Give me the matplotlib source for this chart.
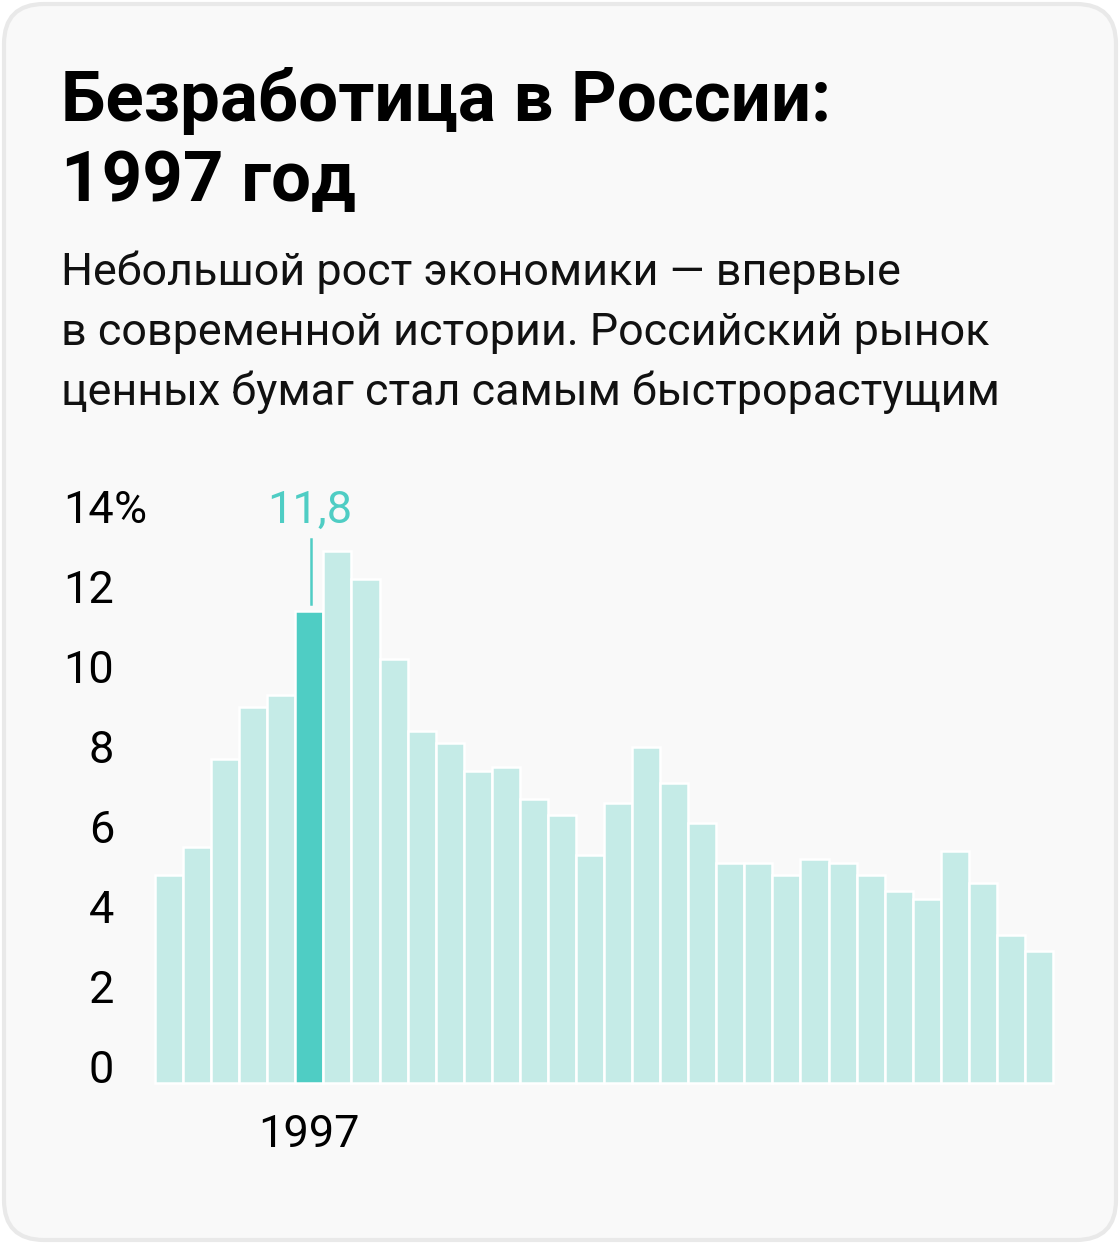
import matplotlib
matplotlib.use("Agg")
import matplotlib.pyplot as plt
from matplotlib.patches import FancyBboxPatch
import matplotlib.transforms as mtransforms

# data: unemployment in Russia, %
years = list(range(1992, 2024))
values = [5.2, 5.9, 8.1, 9.4, 9.7, 11.8, 13.3, 12.6, 10.6, 8.8,
          8.5, 7.8, 7.9, 7.1, 6.7, 5.7, 7.0, 8.4, 7.5, 6.5,
          5.5, 5.5, 5.2, 5.6, 5.5, 5.2, 4.8, 4.6, 5.8, 5.0,
          3.7, 3.3]
highlight_year = 1997
highlight_label = "11,8"
yticks = [0, 2, 4, 6, 8, 10, 12, 14]

title_lines = ["Безработица в России:", "1997 год"]
subtitle_lines = ["Небольшой рост экономики — впервые",
                  "в современной истории. Российский рынок",
                  "ценных бумаг стал самым быстрорастущим"]

light = "#c5ebe7"
teal = "#4fcdc4"
font = ["Roboto", "DejaVu Sans"]
tick_fs = 32.5

W, H = 1120, 1244
fig = plt.figure(figsize=(W / 100, H / 100), dpi=100)
fig.patch.set_facecolor("white")

# background card, pixel coordinates (y down)
bg = fig.add_axes([0, 0, 1, 1])
bg.set_xlim(0, W)
bg.set_ylim(H, 0)
bg.axis("off")
card = FancyBboxPatch((4, 4), W - 8, H - 8, boxstyle="round,pad=0,rounding_size=40",
                      facecolor="#f9f9f9", edgecolor="#e9e9e9", linewidth=3)
bg.add_patch(card)

for i, line in enumerate(title_lines):
    bg.text(61, 121 + 80 * i, line, fontsize=51, fontweight="bold",
            family=font, color="black", va="baseline")
for i, line in enumerate(subtitle_lines):
    bg.text(61, 285 + 60 * i, line, fontsize=32.3, family=font,
            color="#111111", va="baseline")

# chart
left, right, bottom = 155, 1053, 1083
px_per_unit = 40
top = bottom - 14 * px_per_unit
ax = fig.add_axes([left / W, (H - bottom) / H, (right - left) / W, (bottom - top) / H])
ax.set_xlim(-0.5, len(years) - 0.5)
ax.set_ylim(0, 14)
ax.axis("off")
ax.patch.set_alpha(0)

cols = [teal if y == highlight_year else light for y in years]
ax.bar(range(len(years)), values, width=1.0, color=cols,
       edgecolor="white", linewidth=1.8, clip_on=False)

# y tick labels, baseline at tick value, right aligned at x=114px
trans = mtransforms.blended_transform_factory(bg.transData, ax.transData)
for t in yticks:
    bg.text(114, t, str(t), transform=trans, fontsize=tick_fs, family=font,
            ha="right", va="baseline", color="black")
    if t == 14:
        bg.text(114, t, "%", transform=trans, fontsize=tick_fs, family=font,
                ha="left", va="baseline", color="black")

hi = years.index(highlight_year)
hv = values[hi]
ax.text(hi, 14, highlight_label, fontsize=tick_fs, family=font, color=teal,
        ha="center", va="baseline")
ax.plot([hi + 0.05, hi + 0.05], [hv + 0.18, 13.6], color=teal, linewidth=1.8,
        clip_on=False)

trans_x = mtransforms.blended_transform_factory(ax.transData, bg.transData)
bg.text(hi, 1147, str(highlight_year), transform=trans_x, fontsize=tick_fs,
        family=font, ha="center", va="baseline", color="black")

fig.savefig("out.png", dpi=100)
